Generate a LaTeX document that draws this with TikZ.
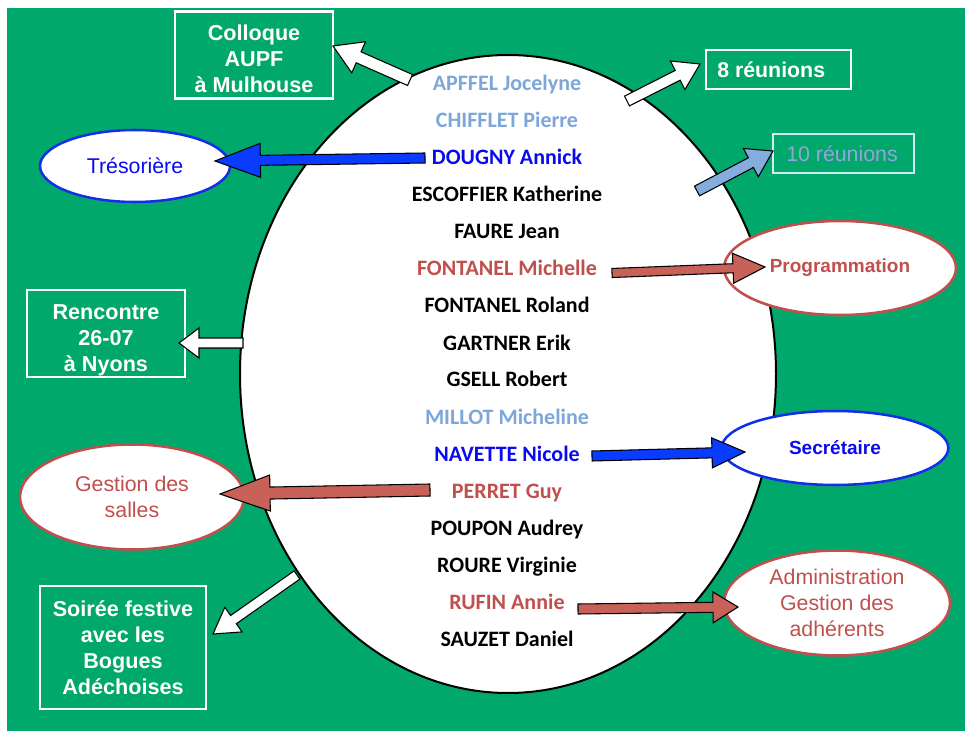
\documentclass[tikz,border=0pt]{standalone}
\usepackage{fontspec}
\setmainfont{Liberation Sans}
\newfontfamily\namefont{Carlito}
\usetikzlibrary{calc,shapes.geometric,shadows}
\definecolor{bggreen}{HTML}{00A86B}
\definecolor{nlight}{HTML}{7DA7D8}
\definecolor{nred}{HTML}{C0504D}
\definecolor{nblue}{HTML}{0A0AF0}
\definecolor{ablue}{HTML}{0A3CFF}
\definecolor{ared}{HTML}{C86259}
\definecolor{alblue}{HTML}{84ACDC}
\definecolor{tenborder}{HTML}{D2EAF2}
\definecolor{eblue}{HTML}{1030E8}
\newcommand\blockarrow[6]{%
  \coordinate (ba-b) at ($(#3)!#6!(#2)$);
  \filldraw[arrowline, fill=#1]
    ($(#2)!#4!90:(#3)$) -- ($(ba-b)!#4!90:(#3)$) -- ($(ba-b)!#5!90:(#3)$) --
    (#3) --
    ($(ba-b)!#5!-90:(#3)$) -- ($(ba-b)!#4!-90:(#3)$) -- ($(#2)!#4!-90:(#3)$) -- cycle;}
\tikzset{
  arrowline/.style={draw=black, line width=0.8pt, line join=miter},
  person/.style={anchor=base, inner sep=0pt, font=\namefont\bfseries\fontsize{16.5}{18}\selectfont},
  wbox/.style={draw=white, line width=1.6pt, rectangle, inner sep=0pt},
  wtext/.style={inner sep=0pt, align=center, text=white, font=\bfseries\fontsize{16.2}{19.5}\selectfont},
  roleell/.style={ellipse, fill=white, line width=1.9pt, inner sep=0pt, align=center,
    drop shadow={shadow xshift=0.5pt, shadow yshift=-1.3pt, opacity=0.35}},
}
\begin{document}
\begin{tikzpicture}[x=0.75pt,y=-0.75pt]
\useasboundingbox (0,0) rectangle (965,731);
\fill[white] (0,0) rectangle (965,731);
\fill[bggreen] (7,8) rectangle (965,731);

% central ellipse
\node[ellipse, draw=black, line width=1.5pt, fill=white, inner sep=0pt,
  minimum width=402pt, minimum height=478.5pt] (ring) at (508,374) {};

% names
\node[person, text=nlight] (n1) at (507,91) {APFFEL Jocelyne};
\node[person, text=nlight] (n2) at (507,128) {CHIFFLET Pierre};
\node[person, text=nblue] (n3) at (507,165) {DOUGNY Annick};
\node[person] (n4) at (507,202) {ESCOFFIER Katherine};
\node[person] (n5) at (507,239) {FAURE Jean};
\node[person, text=nred] (n6) at (507,276) {FONTANEL Michelle};
\node[person] (n7) at (507,313) {FONTANEL Roland};
\node[person] (n8) at (507,350) {GARTNER Erik};
\node[person] (n9) at (507,387) {GSELL Robert};
\node[person, text=nlight] (n10) at (507,424) {MILLOT Micheline};
\node[person, text=nblue] (n11) at (507,461) {NAVETTE Nicole};
\node[person, text=nred] (n12) at (507,498) {PERRET Guy};
\node[person] (n13) at (507,535) {POUPON Audrey};
\node[person] (n14) at (507,572) {ROURE Virginie};
\node[person, text=nred] (n15) at (507,609) {RUFIN Annie};
\node[person] (n16) at (507,646) {SAUZET Daniel};

% boxes
\node[wbox, minimum width=118.5pt, minimum height=65.25pt] (colloque) at (254,55) {};
\node[wtext] (colloquet) at (254,59) {Colloque\\AUPF\\à Mulhouse};
\node[wbox, minimum width=108.75pt, minimum height=29.25pt] (huit) at (778.5,69.5) {};
\node[anchor=west, inner sep=0pt, text=white, font=\bfseries\fontsize{16}{19.5}\selectfont] (huitt) at (717,70) {8 réunions};
\node[draw=tenborder, line width=1.6pt, rectangle, minimum width=105.75pt, minimum height=29.25pt] (dix) at (843.5,153.5) {};
\node[anchor=west, inner sep=0pt, text=black!55, opacity=0.45, font=\fontsize{16}{19.5}\selectfont] (dixs) at (787,155.2) {10 réunions};
\node[anchor=west, inner sep=0pt, text=alblue, font=\fontsize{16}{19.5}\selectfont] (dixt) at (786,154) {10 réunions};
\node[wbox, minimum width=118.5pt, minimum height=65.25pt] (rencontre) at (106,333.5) {};
\node[wtext] (rencontret) at (106,340) {Rencontre\\26-07\\à Nyons};
\node[wbox, minimum width=124.5pt, minimum height=92.25pt] (soiree) at (123,647.5) {};
\node[wtext] (soireet) at (123,647.5) {Soirée festive\\avec les\\Bogues\\Adéchoises};

% role ellipses
\node[roleell, draw=eblue, text=nblue, minimum width=142.5pt, minimum height=54pt,
  font=\fontsize{16}{19.5}\selectfont] (tres) at (135,166) {Trésorière};
\node[roleell, draw=nred, text=nred, minimum width=174pt, minimum height=70.5pt,
  font=\bfseries\fontsize{14.25}{19.5}\selectfont] (prog) at (840,268) {\raisebox{1.5pt}{Programmation}};
\node[roleell, draw=eblue, text=nblue, minimum width=170pt, minimum height=55.5pt,
  font=\bfseries\fontsize{14.25}{19.5}\selectfont] (secr) at (835,448) {Secrétaire};
\node[roleell, draw=nred, text=nred, minimum width=168pt, minimum height=78.75pt,
  font=\fontsize{16}{19.5}\selectfont] (salles) at (132,497) {Gestion des\\salles};
\node[roleell, draw=nred, text=nred, minimum width=169.5pt, minimum height=78.75pt,
  font=\fontsize{16}{19.5}\selectfont] (admin) at (837,603) {Administration\\Gestion des\\adhérents};

% arrow end points
\coordinate (t1) at (410,80);  \coordinate (h1) at (333,46);
\coordinate (t2) at (627,101); \coordinate (h2) at (700,64);
\coordinate (t3) at (697,191); \coordinate (h3) at (773,151);
\coordinate (t4) at (425,158); \coordinate (h4) at (215,161);
\coordinate (t5) at (612,273); \coordinate (h5) at (765,267);
\coordinate (t6) at (592,456); \coordinate (h6) at (745,452);
\coordinate (t7) at (243,343); \coordinate (h7) at (179,343);
\coordinate (t8) at (430,490); \coordinate (h8) at (220,494);
\coordinate (t9) at (297,575); \coordinate (h9) at (213,634);
\coordinate (t10) at (578,609); \coordinate (h10) at (738,607);

\blockarrow{white}{t1}{h1}{4.5pt}{12.75pt}{21pt}
\blockarrow{white}{t2}{h2}{4.1pt}{12pt}{18.75pt}
\blockarrow{alblue}{t3}{h3}{4.1pt}{12pt}{18.75pt}
\blockarrow{ablue}{t4}{h4}{3.75pt}{12.75pt}{34pt}
\blockarrow{ared}{t5}{h5}{3.4pt}{11.25pt}{24pt}
\blockarrow{ablue}{t6}{h6}{3.75pt}{11.25pt}{24.75pt}
\blockarrow{white}{t7}{h7}{3.75pt}{11.25pt}{15pt}
\blockarrow{ared}{t8}{h8}{4.5pt}{13.5pt}{37.5pt}
\blockarrow{white}{t9}{h9}{3.75pt}{11.25pt}{18.75pt}
\blockarrow{ared}{t10}{h10}{3.75pt}{11.6pt}{18.75pt}
\end{tikzpicture}
\end{document}
